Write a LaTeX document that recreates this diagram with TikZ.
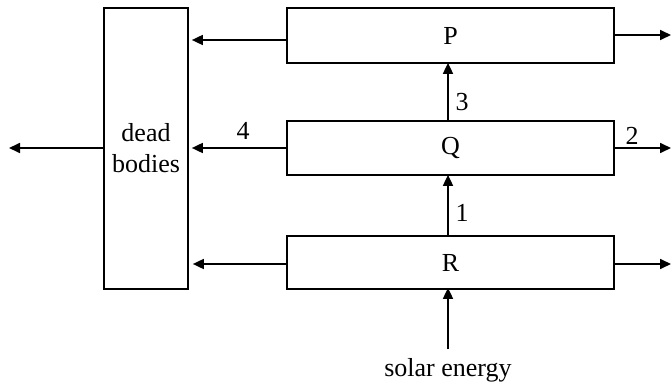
\documentclass[tikz,border=0pt]{standalone}
\usepackage{fontspec}
\setmainfont{Liberation Serif}
\usetikzlibrary{arrows.meta}
\begin{document}
\begin{tikzpicture}[x=1pt,y=-1pt,
  box/.style={draw,line width=1.7pt,inner sep=0pt,align=center,font=\fontsize{26}{31}\selectfont},
  arr/.style={line width=1.7pt,-{Triangle[length=11pt,width=10pt]}},
  lbl/.style={inner sep=0pt,font=\fontsize{26}{31}\selectfont}]
\useasboundingbox (0,0) rectangle (672,385);
\node[box,minimum width=84pt,minimum height=281pt] (D) at (146,148.5) {dead\\bodies};
\node[box,minimum width=327pt,minimum height=55pt] (P) at (450.5,35.5) {P};
\node[box,minimum width=327pt,minimum height=54pt] (Q) at (450.5,148) {Q};
\node[box,minimum width=327pt,minimum height=53pt] (R) at (450.5,262.5) {R};
\coordinate (L) at (9,148);
\coordinate (PE) at (671,35);
\coordinate (QE) at (671,148);
\coordinate (RE) at (671,264);
\coordinate (S) at (448,349);
\node[lbl,anchor=north] (SL) at (448,358) {solar energy};
% arrows to dead bodies
\draw[arr,shorten >=3pt] (P.west |- 0,40) -- (D.east |- 0,40);
\draw[arr,shorten >=3pt] (Q.west) -- (D.east |- Q.west);
\draw[arr,shorten >=4pt] (R.west |- 0,264) -- (D.east |- 0,264);
\draw[arr] (D.west |- L) -- (L);
% arrows to the right
\draw[arr] (P.east |- PE) -- (PE);
\draw[arr] (Q.east) -- (QE);
\draw[arr] (R.east |- RE) -- (RE);
% vertical arrows
\draw[arr,shorten >=-1pt] (Q.north -| S) -- (P.south -| S);
\draw[arr,shorten >=-1pt] (R.north -| S) -- (Q.south -| S);
\draw[arr,shorten >=-2pt] (S) -- (R.south -| S);
% labels
\node[lbl] (n4) at (243,131) {4};
\node[lbl] (n3) at (462,102) {3};
\node[lbl] (n2) at (632,136) {2};
\node[lbl] (n1) at (462,213) {1};
\end{tikzpicture}
\end{document}
